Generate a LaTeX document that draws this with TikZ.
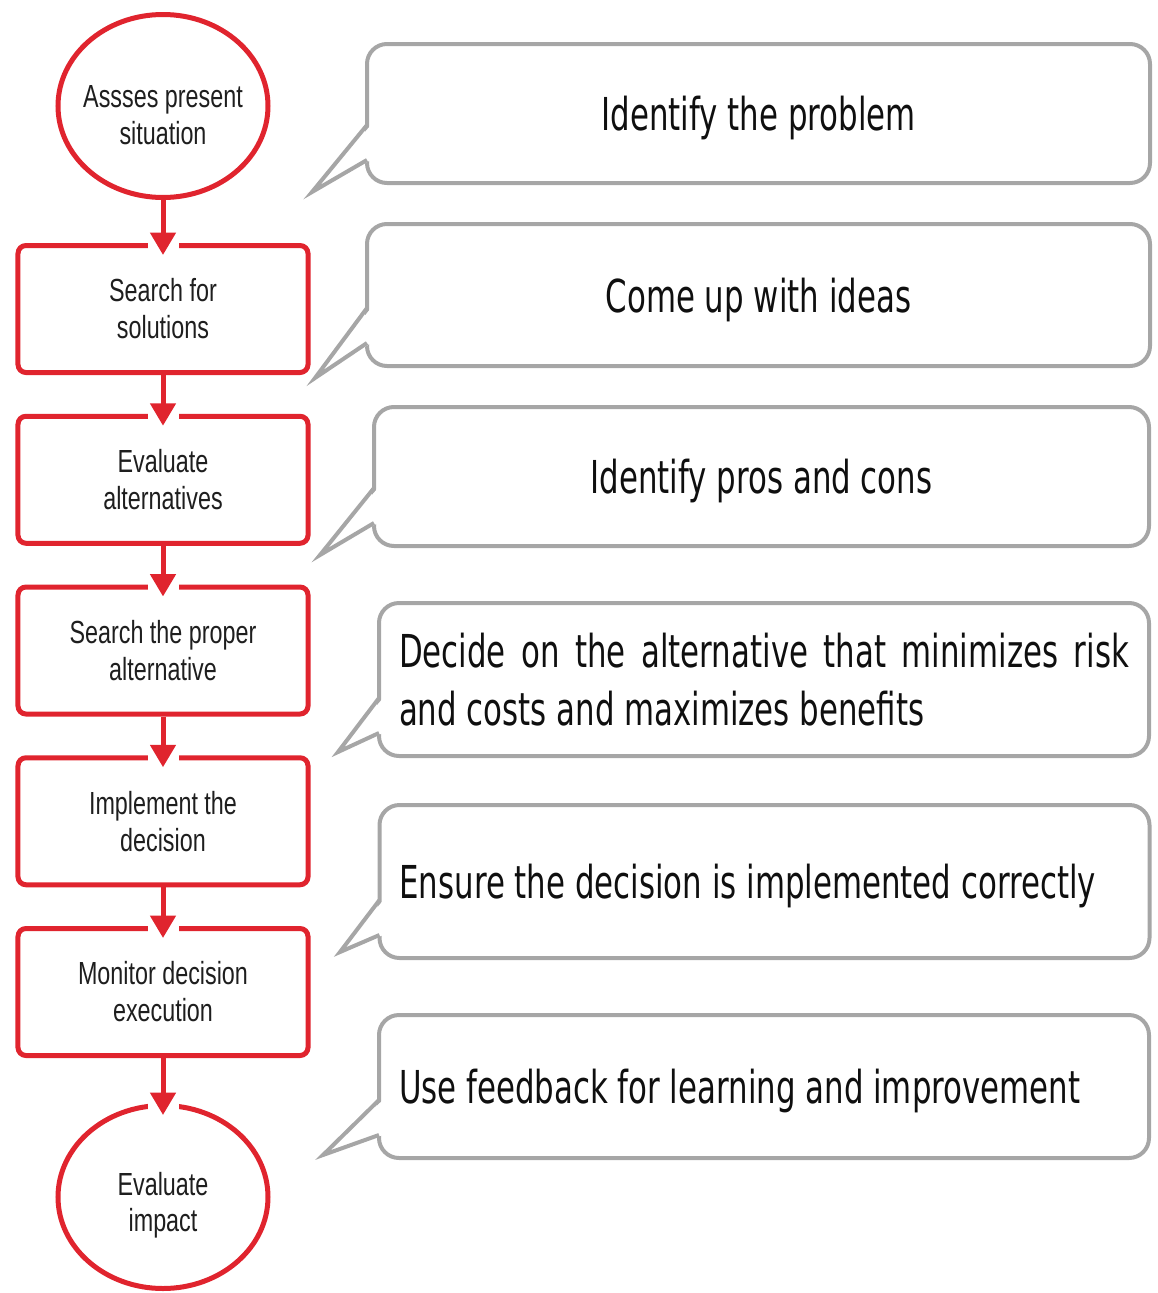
\documentclass[tikz,border=0pt]{standalone}
\usepackage{fontspec}
\usepackage{tikz}
\usetikzlibrary{arrows.meta, shapes.geometric, positioning}

\newfontfamily\stepfont{Liberation Sans}[FakeStretch=0.73]
\newfontfamily\notefont{DejaVu Sans}[FakeStretch=0.68]
\definecolor{flowred}{RGB}{224,36,46}
\definecolor{notegray}{RGB}{166,166,166}
\definecolor{steptext}{RGB}{30,30,30}
\definecolor{notetext}{RGB}{15,15,15}

\begin{document}
\begin{tikzpicture}[node distance=3.415cm]
  \tikzstyle{stepbox}=[rectangle, draw=flowred, line width=1mm, rounded corners=1.6mm, minimum width=5.8cm, minimum height=2.54cm, align=center, text=steptext, font=\stepfont\fontsize{18.2pt}{21pt}\selectfont]
  \tikzstyle{terminal}=[ellipse, draw=flowred, line width=1mm, inner sep=-5mm, text height=43.5pt, minimum width=4.2cm, minimum height=3.66cm, align=center, text=steptext, font=\stepfont\fontsize{18.2pt}{21pt}\selectfont]
  \tikzstyle{note}=[rectangle, draw=notegray, line width=0.8mm, rounded corners=4mm, minimum width=15.4cm, align=center, text=notetext, font=\notefont\fontsize{25.8pt}{33pt}\selectfont]
  \tikzstyle{oneline}=[text depth=0pt]
  \tikzstyle{flow}=[draw=flowred, line width=1mm, -{Triangle[width=5mm,length=4.5mm]}, shorten >=-2.4mm]
  \tikzstyle{tail}=[draw=notegray, line width=0.8mm, line join=miter]

  \useasboundingbox (0,0) rectangle (23.14,-25.86);

  \node[terminal] (a) at (3.26,-2.12) {Assses present\\situation};
  \node[stepbox] (s1) [below of=a, node distance=4.06cm] {Search for\\solutions};
  \node[stepbox] (s2) [below of=s1] {Evaluate\\alternatives};
  \node[stepbox] (s3) [below of=s2] {Search the proper\\alternative};
  \node[stepbox] (s4) [below of=s3] {Implement the\\decision};
  \node[stepbox] (s5) [below of=s4] {Monitor decision\\execution};
  \node[terminal] (z) [below of=s5, node distance=4.1cm] {Evaluate\\impact};

  \node[note, oneline, minimum width=15.66cm, minimum height=2.78cm] (c1) at (15.17,-2.27) {Identify the problem};
  \node[note, oneline, minimum width=15.66cm, minimum height=2.84cm] (c2) at (15.17,-5.90) {Come up with ideas};
  \node[note, oneline, minimum width=15.5cm, minimum height=2.78cm] (c3) at (15.23,-9.53) {Identify pros and cons};
  \node[note, minimum height=3.06cm, text width=14.6cm, align=justify] (c4) at (15.28,-13.59) {Decide on the alternative that minimizes risk\linebreak and costs and maximizes benefits};
  \node[note, oneline, minimum height=3.06cm, text width=14.6cm, align=justify] (c5) at (15.29,-17.63) {Ensure the decision is implemented correctly};
  \node[note, oneline, minimum height=2.86cm, text width=14.6cm, align=justify] (c6) at (15.28,-21.73) {Use feedback for learning and improvement};

  \coordinate (p1) at (6.24,-3.84);
  \coordinate (p2) at (6.30,-7.56);
  \coordinate (p3) at (6.40,-11.10);
  \coordinate (p4) at (6.76,-15.04);
  \coordinate (p5) at (6.80,-19.04);
  \coordinate (p6) at (6.46,-23.10);

  \fill[white] ([xshift=1.2mm,yshift=12mm]c1.south west) -- (p1) -- ([xshift=1.2mm,yshift=5mm]c1.south west) -- cycle;
  \draw[tail] ([xshift=.4mm,yshift=12mm]c1.south west) -- (p1) -- ([xshift=.4mm,yshift=5mm]c1.south west);
  \fill[white] ([xshift=1.2mm,yshift=12mm]c2.south west) -- (p2) -- ([xshift=1.2mm,yshift=5mm]c2.south west) -- cycle;
  \draw[tail] ([xshift=.4mm,yshift=12mm]c2.south west) -- (p2) -- ([xshift=.4mm,yshift=5mm]c2.south west);
  \fill[white] ([xshift=1.2mm,yshift=12mm]c3.south west) -- (p3) -- ([xshift=1.2mm,yshift=5mm]c3.south west) -- cycle;
  \draw[tail] ([xshift=.4mm,yshift=12mm]c3.south west) -- (p3) -- ([xshift=.4mm,yshift=5mm]c3.south west);
  \fill[white] ([xshift=1.2mm,yshift=12mm]c4.south west) -- (p4) -- ([xshift=1.2mm,yshift=5mm]c4.south west) -- cycle;
  \draw[tail] ([xshift=.4mm,yshift=12mm]c4.south west) -- (p4) -- ([xshift=.4mm,yshift=5mm]c4.south west);
  \fill[white] ([xshift=1.2mm,yshift=12mm]c5.south west) -- (p5) -- ([xshift=1.2mm,yshift=5mm]c5.south west) -- cycle;
  \draw[tail] ([xshift=.4mm,yshift=12mm]c5.south west) -- (p5) -- ([xshift=.4mm,yshift=5mm]c5.south west);
  \fill[white] ([xshift=1.2mm,yshift=12mm]c6.south west) -- (p6) -- ([xshift=1.2mm,yshift=5mm]c6.south west) -- cycle;
  \draw[tail] ([xshift=.4mm,yshift=12mm]c6.south west) -- (p6) -- ([xshift=.4mm,yshift=5mm]c6.south west);

  % openings in the borders where the arrows enter
  \fill[white] ([xshift=-3.1mm,yshift=.5mm]s1.north) rectangle ([xshift=3.1mm,yshift=-2mm]s1.north);
  \fill[white] ([xshift=-3.1mm,yshift=.5mm]s2.north) rectangle ([xshift=3.1mm,yshift=-2mm]s2.north);
  \fill[white] ([xshift=-3.1mm,yshift=.5mm]s3.north) rectangle ([xshift=3.1mm,yshift=-2mm]s3.north);
  \fill[white] ([xshift=-3.1mm,yshift=.5mm]s4.north) rectangle ([xshift=3.1mm,yshift=-2mm]s4.north);
  \fill[white] ([xshift=-3.1mm,yshift=.5mm]s5.north) rectangle ([xshift=3.1mm,yshift=-2mm]s5.north);
  \fill[white] ([xshift=-3.1mm,yshift=.5mm]z.north) rectangle ([xshift=3.1mm,yshift=-2mm]z.north);

  \draw[flow] (a) -- (s1);
  \draw[flow] (s1) -- (s2);
  \draw[flow] (s2) -- (s3);
  \draw[flow] (s3) -- (s4);
  \draw[flow] (s4) -- (s5);
  \draw[flow] (s5) -- (z);
\end{tikzpicture}
\end{document}
